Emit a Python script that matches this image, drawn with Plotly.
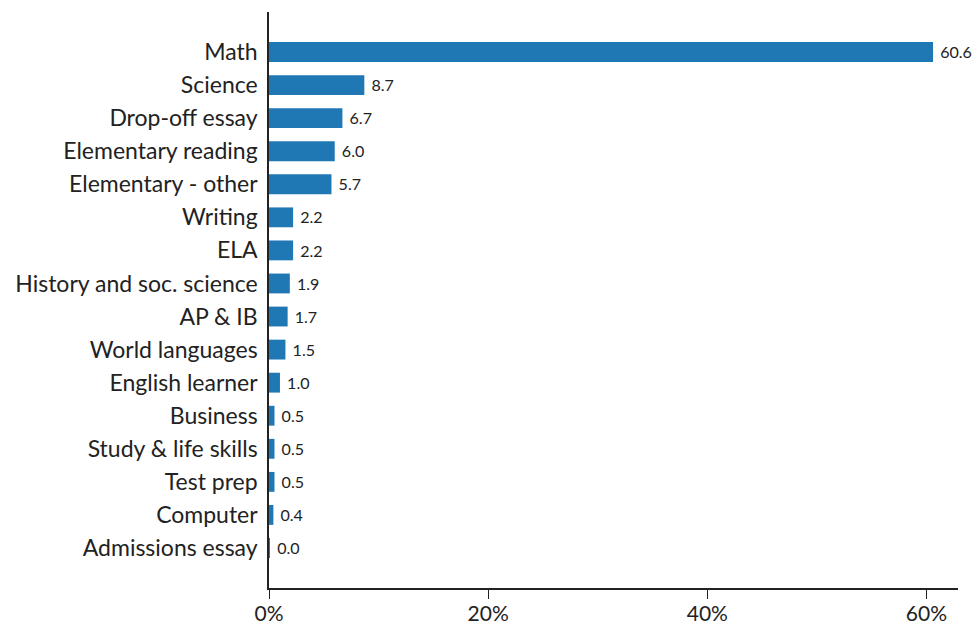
import plotly.graph_objects as go

categories = ["Math", "Science", "Drop-off essay", "Elementary reading", "Elementary - other",
              "Writing", "ELA", "History and soc. science", "AP & IB", "World languages",
              "English learner", "Business", "Study & life skills", "Test prep", "Computer",
              "Admissions essay"]
values = [60.6, 8.7, 6.7, 6.0, 5.7, 2.2, 2.2, 1.9, 1.7, 1.5, 1.0, 0.5, 0.5, 0.5, 0.4, 0.05]
labels = ["60.6", "8.7", "6.7", "6.0", "5.7", "2.2", "2.2", "1.9", "1.7", "1.5", "1.0",
          "0.5", "0.5", "0.5", "0.4", "0.0"]
x_ticks = [0, 20, 40, 60]
x_tick_text = ["0%", "20%", "40%", "60%"]

fig = go.Figure(go.Bar(
    x=values, y=categories, orientation="h",
    marker=dict(color="#1f77b4", line=dict(width=0)),
    width=0.6,
    text=labels, texttemplate=" %{text}", textposition="outside", cliponaxis=False,
    textfont=dict(size=17, color="#222222", family="Lato"),
))

fig.update_layout(
    width=980, height=624,
    margin=dict(l=261, r=30, t=4, b=44, pad=0),
    paper_bgcolor="white", plot_bgcolor="white",
    font=dict(family="Lato", size=23, color="#222222"),
    showlegend=False,
    xaxis=dict(range=[0, 62.88], tickvals=x_ticks, ticktext=x_tick_text,
               showgrid=False, zeroline=False, showline=True, linecolor="#222222",
               linewidth=1.5, ticks="outside", ticklen=9, tickcolor="#222222",
               tickwidth=1.2, tickfont=dict(size=21), automargin=False,
               ticklabelstandoff=-3),
    yaxis=dict(categoryorder="array", categoryarray=categories,
               range=[16.21, -1.21], showgrid=False, zeroline=False,
               showline=True, linecolor="#222222", linewidth=1.5, ticks="",
               ticklabelstandoff=5, tickfont=dict(size=23), automargin=False),
    bargap=0.4,
)

fig.write_html("out.html")
